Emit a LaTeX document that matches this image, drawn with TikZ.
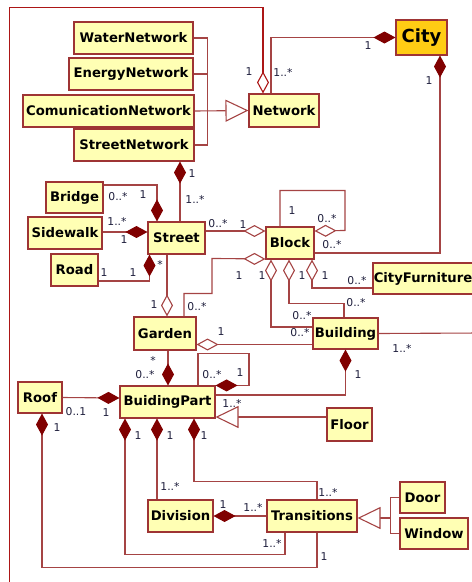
\documentclass[tikz,border=0pt]{standalone}
\usepackage{fontspec}
\setmainfont{DejaVu Sans}
\usetikzlibrary{arrows.meta,calc,positioning}

\definecolor{clsfill}{RGB}{255,255,180}
\definecolor{clsborder}{RGB}{158,52,52}
\definecolor{linecol}{RGB}{165,68,68}
\definecolor{diacol}{RGB}{128,0,0}
\definecolor{framecol}{RGB}{172,22,22}
\definecolor{cityfill}{RGB}{255,204,20}
\definecolor{labelcol}{RGB}{30,30,60}

\begin{document}
\begin{tikzpicture}[%
x=1pt, y=-1pt,
cls/.style={draw=clsborder, fill=clsfill, line width=1.1pt, inner sep=0pt,
  minimum height=32pt, font=\bfseries\fontsize{13.2}{15}\selectfont},
lnk/.style={draw=linecol, line width=1.1pt},
comp/.style={lnk, -{Diamond[length=22pt,width=12pt,color=diacol]}},
agg/.style={lnk, -{Diamond[open,length=22pt,width=12pt,fill=white]}},
gen/.style={lnk, -{Triangle[open,length=23pt,width=22pt,fill=white]}},
mult/.style={inner sep=0pt, text=labelcol, font=\fontsize{10.8}{12}\selectfont}
]
\useasboundingbox (0,0) rectangle (472,582);

% classes
\node[cls, minimum width=119pt] (WaterNetwork) at (133.5,38) {WaterNetwork};
\node[cls, minimum width=124pt] (EnergyNetwork) at (131,74) {EnergyNetwork};
\node[cls, minimum width=171pt] (ComunicationNetwork) at (108.5,111) {ComunicationNetwork};
\node[cls, minimum width=120pt] (StreetNetwork) at (134,145) {StreetNetwork};
\node[cls, minimum width=70pt, minimum height=33pt] (Network) at (284,110.5) {Network};
\node[cls, fill=cityfill, minimum width=51pt, minimum height=35pt,
  font=\bfseries\fontsize{18}{20}\selectfont] (City) at (421.5,37.5) {City};
\node[cls, minimum width=57pt, minimum height=31pt] (Bridge) at (74.5,197.5) {Bridge};
\node[cls, minimum width=74pt] (Sidewalk) at (65,233) {Sidewalk};
\node[cls, minimum width=57pt] (Street) at (176.5,238) {Street};
\node[cls, minimum width=47pt] (Road) at (74.5,270) {Road};
\node[cls, minimum width=48pt] (Block) at (290,243) {Block};
\node[cls, minimum width=100pt, minimum height=31pt] (CityFurniture) at (423,278.5) {CityFurniture};
\node[cls, minimum width=62pt, minimum height=33pt] (Garden) at (165,333.5) {Garden};
\node[cls, minimum width=65pt, minimum height=31pt] (Building) at (345.5,333.5) {Building};
\node[cls, minimum width=95pt] (BuidingPart) at (167.5,402) {BuidingPart};
\node[cls, minimum width=44pt, minimum height=31pt] (Roof) at (40,397.5) {Roof};
\node[cls, minimum width=45pt, minimum height=33pt] (Floor) at (349.5,424.5) {Floor};
\node[cls, minimum width=65pt] (Division) at (180.5,516) {Division};
\node[cls, minimum width=90pt] (Transitions) at (312,516) {Transitions};
\node[cls, minimum width=45pt, minimum height=31pt] (Door) at (422.5,497.5) {Door};
\node[cls, minimum width=68pt, minimum height=31pt] (Window) at (434,533.5) {Window};

\coordinate (frameend) at (9.5,590);
\coordinate (bldgout) at (480,333);

% networks
\draw[lnk] (WaterNetwork.east) -- ++(14,0) |- (StreetNetwork.east);
\draw[lnk] (EnergyNetwork.east) -- ++(14,0);
\path (ComunicationNetwork.east) edge[gen] (Network.west);
\draw[agg, draw=framecol] (frameend) |- ($(Network.north)+(-21,-86)$) -- ($(Network.north)+(-21,0)$);
\draw[comp] ($(Network.north)+(-13,0)$) |- (City.west);
\draw[comp] ($(Block.east)+(0,10)$) -| ($(City.south)+(18.5,0)$);

% street
\path ($(Street.north)+(3.5,0)$) edge[comp] ($(StreetNetwork.south)+(46,0)$);
\draw[comp] ($(Bridge.east)+(0,-12.5)$) -| ($(Street.north)+(-19.5,0)$);
\path ($(Sidewalk.east)+(0,-1)$) edge[comp] ($(Street.west)+(0,-6)$);
\draw[comp] ($(Road.east)+(0,11)$) -| ($(Street.south)+(-27,0)$);
\path ($(Street.south)+(-9.5,0)$) edge[agg] ($(Garden.north)+(2,0)$);
\path ($(Street.east)+(0,-7)$) edge[agg] ($(Block.west)+(0,-12)$);

% block
\draw[agg] ($(Block.north)+(-10,0)$) -- ++(0,-36) -| ++(65,40) -- ($(Block.east)+(0,-12)$);
\draw[agg] ($(Garden.north)+(19,0)$) -- ++(0,-23) -| ++(28,-35) -- ($(Block.west)+(0,16)$);
\draw[agg] ($(Building.west)+(0,-6.5)$) -| ($(Block.south)+(-19,0)$);
\draw[agg] ($(Building.north)+(-1.5,0)$) -- ++(0,-14) -| ($(Block.south)+(-1,0)$);
\draw[agg] ($(CityFurniture.west)+(0,9.5)$) -| ($(Block.south)+(22,0)$);
\path ($(Building.west)+(0,11)$) edge[agg] ($(Garden.east)+(0,11)$);
\path (Building.east) edge[lnk] (bldgout);

% building parts
\draw[comp] ($(BuidingPart.east)+(0,-7)$) -| (Building.south);
\path ($(Garden.south)+(3,0)$) edge[comp] ($(BuidingPart.north)+(0.5,0)$);
\draw[comp] ($(BuidingPart.north)+(30.5,0)$) -- ++(0,-32) -| ++(51,32) -- (BuidingPart.north east);
\path ($(Floor.west)+(0,-7.5)$) edge[gen] ($(BuidingPart.east)+(0,15)$);
\path (Roof.east) edge[comp] ($(BuidingPart.west)+(0,-4)$);
\draw[comp] ($(Transitions.south)+(5,0)$) -- ++(0,35) -| ($(Roof.south)+(2,0)$);
\draw[comp] ($(Transitions.south)+(-27,0)$) -- ++(0,22) -| ($(BuidingPart.south)+(-42.5,0)$);
\path ($(Division.north)+(-23.5,0)$) edge[comp] ($(BuidingPart.south)+(-10.5,0)$);
\draw[comp] ($(Transitions.north)+(5,0)$) -- ++(0,-18) -| ($(BuidingPart.south)+(26.5,0)$);
\path (Transitions.west) edge[comp] (Division.east);
\draw[lnk] (Door.west) -- ++(-9,0) |- (Window.west);
\path ($(Door.west)+(-9,20.5)$) edge[gen] ($(Transitions.east)+(0,2)$);

% multiplicities
\node[mult] at (249,72) {1};
\node[mult] at (283,72) {1..*};
\node[mult] at (368,46) {1};
\node[mult] at (429,81) {1};
\node[mult] at (192,174) {1};
\node[mult] at (195,199) {1..*};
\node[mult] at (118,197) {0..*};
\node[mult] at (143,195) {1};
\node[mult] at (117,221) {1..*};
\node[mult] at (124,240) {1};
\node[mult] at (104,273) {1};
\node[mult] at (133,273) {1};
\node[mult] at (160,264) {*};
\node[mult] at (218,224) {0..*};
\node[mult] at (243,225) {1};
\node[mult] at (292,211) {1};
\node[mult] at (327,219) {0..*};
\node[mult] at (332,245) {0..*};
\node[mult] at (154,305) {1};
\node[mult] at (239,276) {1};
\node[mult] at (197,307) {0..*};
\node[mult] at (262,276) {1};
\node[mult] at (302,276) {1};
\node[mult] at (325,276) {1};
\node[mult] at (357,281) {0..*};
\node[mult] at (356,303) {0..*};
\node[mult] at (302,316) {0..*};
\node[mult] at (221,332) {1};
\node[mult] at (300,333) {0..*};
\node[mult] at (402,348) {1..*};
\node[mult] at (358,375) {1};
\node[mult] at (153,360) {*};
\node[mult] at (145,375) {0..*};
\node[mult] at (212,375) {0..*};
\node[mult] at (240,373) {1};
\node[mult] at (232,403) {1..*};
\node[mult] at (76,412) {0..1};
\node[mult] at (106,413) {1};
\node[mult] at (57,428) {1};
\node[mult] at (138,436) {1};
\node[mult] at (170,436) {1};
\node[mult] at (204,436) {1};
\node[mult] at (170,486) {1..*};
\node[mult] at (328,492) {1..*};
\node[mult] at (223,505) {1};
\node[mult] at (253,507) {1..*};
\node[mult] at (272,543) {1..*};
\node[mult] at (324,557) {1};
\end{tikzpicture}
\end{document}
